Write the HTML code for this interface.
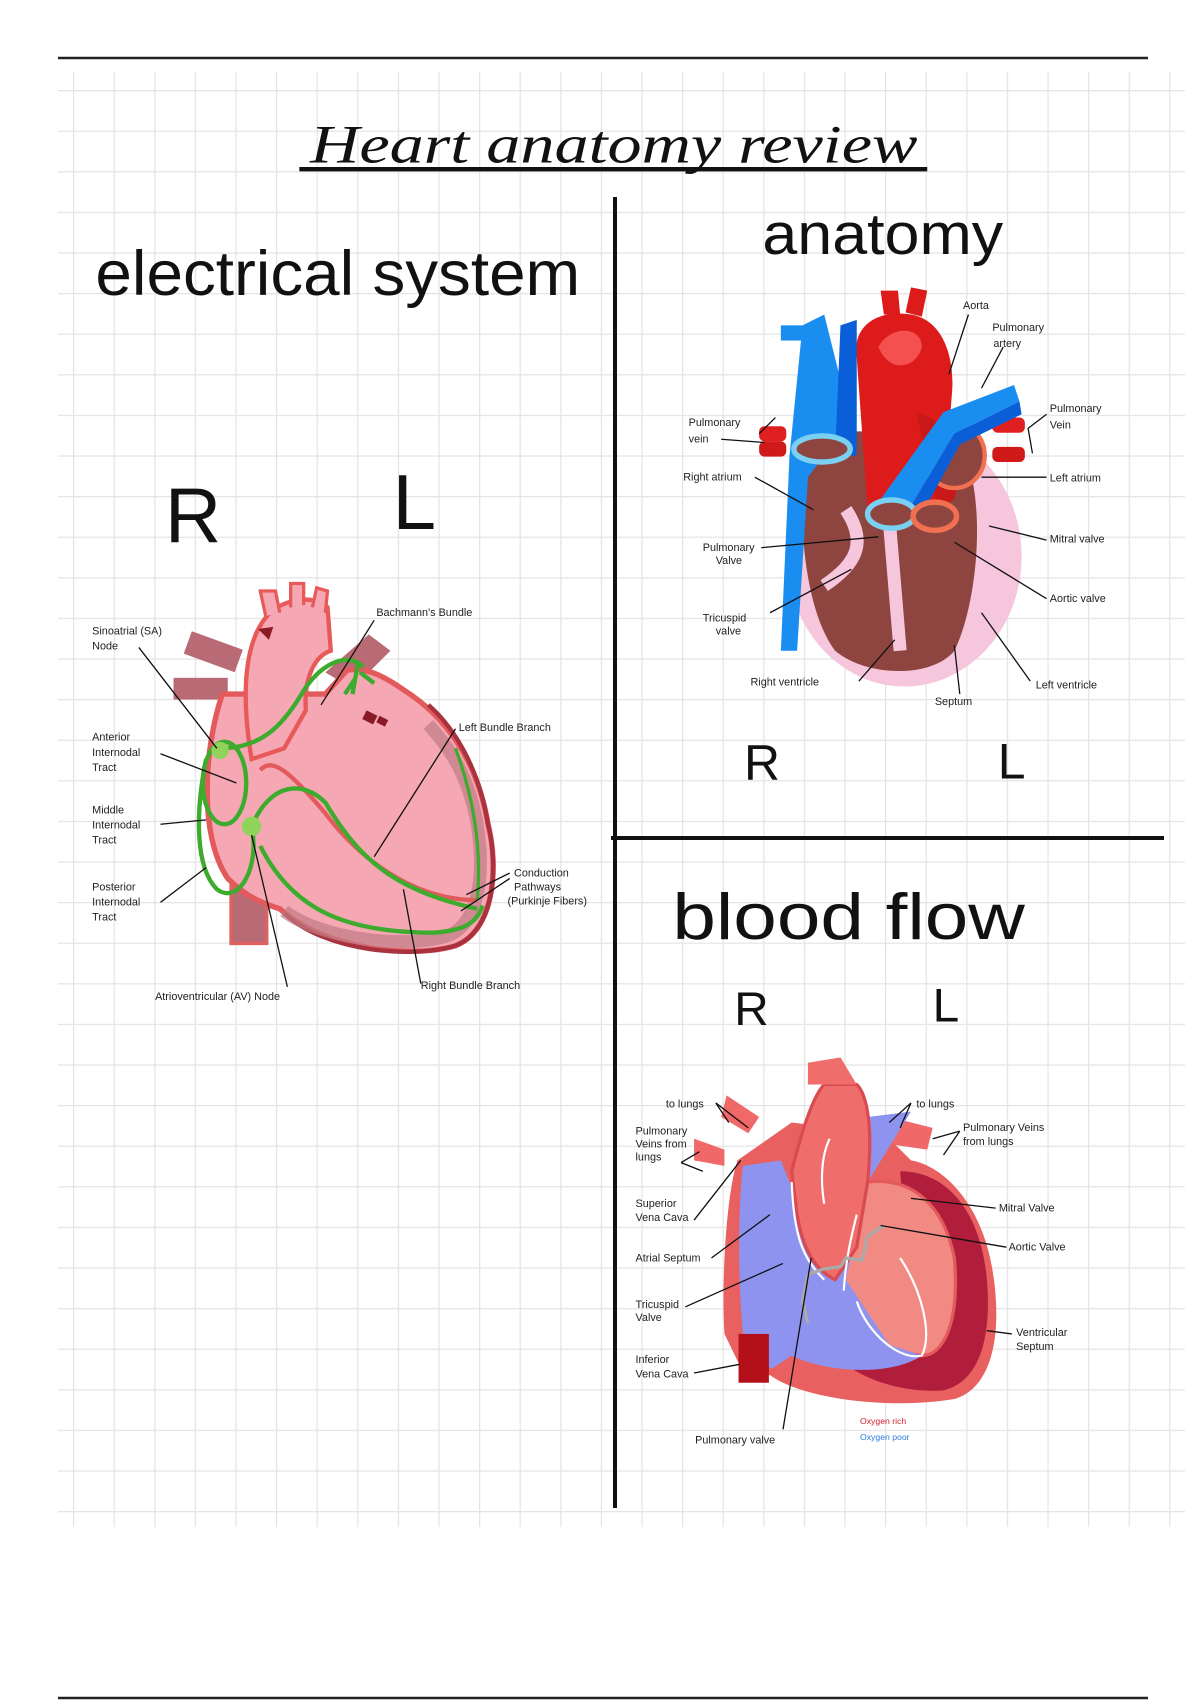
<!DOCTYPE html>
<html><head><meta charset="utf-8"><style>
html,body{margin:0;padding:0;background:#fff;}
svg{display:block;}
.lb{font-family:"Liberation Sans",sans-serif;font-size:10px;fill:#222;}
.hw{font-family:"Liberation Sans",sans-serif;fill:#111;}
.ln{stroke:#111;stroke-width:1.2;fill:none;}
</style></head><body>
<svg width="1200" height="1700" viewBox="0 0 1200 1700" xmlns="http://www.w3.org/2000/svg">
<defs>
<pattern id="g" x="73" y="90" width="40.6" height="40.6" patternUnits="userSpaceOnUse">
<path d="M0 0V40.6M0 0H40.6" stroke="#e4e4e4" stroke-width="2.5" fill="none"/>
</pattern>
</defs>
<rect width="1200" height="1700" fill="#fff"/>
<rect x="58" y="72" width="1127" height="1455" fill="url(#g)"/>
<line x1="58" y1="58" x2="1148" y2="58" stroke="#222" stroke-width="2.5"/>
<line x1="58" y1="1698" x2="1148" y2="1698" stroke="#222" stroke-width="2.5"/>
<line x1="615" y1="197" x2="615" y2="1508" stroke="#111" stroke-width="4"/>
<line x1="611" y1="838" x2="1164" y2="838" stroke="#111" stroke-width="4"/>

<g transform="scale(1.0845)">
<!-- title -->
<text x="566" y="150" text-anchor="middle" font-family="Liberation Serif,serif" font-style="italic" font-size="50" fill="#111" textLength="560" lengthAdjust="spacingAndGlyphs">Heart anatomy review</text>
<line x1="276" y1="156" x2="855" y2="156" stroke="#111" stroke-width="4"/>

<text class="hw" x="88" y="272" font-size="58" textLength="447" lengthAdjust="spacingAndGlyphs">electrical system</text>
<text class="hw" x="703" y="234" font-size="54" textLength="222" lengthAdjust="spacingAndGlyphs">anatomy</text>
<text class="hw" x="620" y="866" font-size="60" textLength="325" lengthAdjust="spacingAndGlyphs">blood flow</text>
<text class="hw" x="152" y="500" font-size="72" font-weight="normal">R</text>
<text class="hw" x="362" y="488" font-size="72">L</text>
<text class="hw" x="686" y="719" font-size="46">R</text>
<text class="hw" x="920" y="718" font-size="46">L</text>
<text class="hw" x="677" y="945" font-size="44">R</text>
<text class="hw" x="860" y="942" font-size="44">L</text>

<!-- ELECTRICAL HEART -->
<g>
<rect x="172" y="590" width="50" height="22" fill="#b86a75" transform="rotate(20 197 600)"/>
<rect x="160" y="625" width="50" height="20" fill="#b86a75"/>
<rect x="213" y="815" width="33" height="55" fill="#b86a75" stroke="#e06060" stroke-width="3"/>
<path d="M300 620 L340 585 L360 600 L325 635 Z" fill="#b86a75"/>
<path d="M205 640 C188 690 183 770 210 810 C228 828 245 834 258 838 C300 876 380 884 420 872 C456 858 460 800 450 760 C440 700 410 660 372 636 C352 622 336 615 320 618 L300 640 L245 640 Z" fill="#f5a8b4" stroke="#e35a5c" stroke-width="5"/>
<path d="M262 842 C300 878 380 884 420 872 C456 858 460 800 450 760 C442 710 420 672 395 650" fill="none" stroke="#a8323f" stroke-width="4"/>
<path d="M262 840 C300 868 380 875 415 862 C440 850 448 810 440 760 C432 715 415 690 395 668" fill="none" stroke="#c07a85" stroke-width="12" opacity=".7"/>
<path d="M232 700 C222 640 225 590 248 566 C262 552 290 548 302 560 L305 600 C290 605 280 625 282 655 L262 690 Z" fill="#f5a8b4" stroke="#e85a5a" stroke-width="4"/>
<path d="M245 568 L240 545 L254 545 L258 565 M268 560 L268 538 L280 538 L280 558 M288 560 L292 542 L302 545 L300 565" fill="#f5a8b4" stroke="#e85a5a" stroke-width="3"/>
<path d="M238 580 L248 590 L252 578 Z" fill="#8a1a25"/>
<path d="M338 655 l10 5 l-4 8 l-10 -5z M350 660 l8 4 l-3 6 l-8 -4z" fill="#8a1a25"/>
<path d="M240 710 C250 700 262 705 300 750 C330 790 380 830 440 830" fill="none" stroke="#e35a5c" stroke-width="4"/>
<!-- green -->
<g fill="none" stroke="#3cab2e" stroke-width="4">
<path d="M203 690 C240 690 260 670 278 640 C295 612 320 600 335 615"/>
<path d="M330 612 L325 640 M332 620 L345 630 M328 625 L318 640"/>
<ellipse cx="207" cy="722" rx="20" ry="38"/>
<path d="M190 700 C180 750 180 800 200 820 C220 835 240 800 232 762"/>
<path d="M232 762 C250 720 280 720 300 740 C330 790 360 820 440 838"/>
<path d="M240 780 C270 840 320 860 400 860 C430 858 440 850 445 835"/>
<path d="M420 690 C435 730 445 780 440 830" stroke-width="3"/>
</g>
<circle cx="203" cy="692" r="8" fill="#8fd35a"/>
<circle cx="232" cy="762" r="9" fill="#8fd35a"/>
<g class="ln" stroke-width="1">
<path d="M128 597 L200 690"/><path d="M148 695 L218 722"/><path d="M148 760 L190 756"/>
<path d="M148 832 L190 800"/><path d="M232 770 L265 910"/><path d="M345 572 L296 650"/>
<path d="M420 672 L345 790"/><path d="M372 820 L388 907"/><path d="M470 805 L430 825 M470 810 L425 840"/>
</g>
<text class="lb" x="85" y="585">Sinoatrial (SA)</text><text class="lb" x="85" y="599">Node</text>
<text class="lb" x="85" y="683">Anterior</text><text class="lb" x="85" y="697">Internodal</text><text class="lb" x="85" y="711">Tract</text>
<text class="lb" x="85" y="750">Middle</text><text class="lb" x="85" y="764">Internodal</text><text class="lb" x="85" y="778">Tract</text>
<text class="lb" x="85" y="821">Posterior</text><text class="lb" x="85" y="835">Internodal</text><text class="lb" x="85" y="849">Tract</text>
<text class="lb" x="143" y="922">Atrioventricular (AV) Node</text>
<text class="lb" x="347" y="568">Bachmann's Bundle</text>
<text class="lb" x="423" y="674">Left Bundle Branch</text>
<text class="lb" x="474" y="808">Conduction</text><text class="lb" x="474" y="821">Pathways</text><text class="lb" x="468" y="834">(Purkinje Fibers)</text>
<text class="lb" x="388" y="912">Right Bundle Branch</text>
</g>

<!-- ANATOMY HEART -->
<g>
<rect x="700" y="393" width="25" height="14" rx="5" fill="#e02020"/>
<rect x="700" y="407" width="25" height="14" rx="5" fill="#d01a1a"/>
<rect x="915" y="385" width="30" height="14" rx="5" fill="#e02020"/>
<rect x="915" y="412" width="30" height="14" rx="5" fill="#d01a1a"/>
<ellipse cx="834" cy="513" rx="108" ry="120" fill="#f6c6dc"/>
<path d="M742 405 C735 470 740 560 770 600 C800 625 860 625 880 600 C900 560 910 470 890 420 C870 400 780 390 742 405 Z" fill="#8e4540"/>
<path d="M820 480 L830 600 M780 470 C800 500 790 520 760 540" stroke="#f6c6dc" stroke-width="12" fill="none"/>
<path d="M790 330 C785 300 810 285 840 290 C870 295 880 330 878 360 L870 460 L800 470 Z" fill="#dd1b1b"/>
<path d="M815 290 L812 268 L828 268 L830 290 M835 288 L840 265 L855 268 L850 292" fill="#dd1b1b"/>
<path d="M810 320 C820 300 850 300 850 320 C845 340 820 345 810 320Z" fill="#f45050"/>
<path d="M845 380 C880 390 890 420 880 460 L865 470 Z" fill="#c81818"/>
<ellipse cx="880" cy="420" rx="28" ry="30" fill="#8e4540" stroke="#f07050" stroke-width="4"/>
<path d="M740 300 L760 290 L790 410 L760 420 L745 440 L735 600 L720 600 L728 420 Z" fill="#1a8ef0"/>
<path d="M775 300 L790 295 L790 420 L770 420 Z" fill="#0a5ed8"/>
<rect x="720" y="300" width="20" height="14" fill="#1a8ef0"/>
<path d="M805 470 L870 380 L935 355 L940 370 L880 400 L835 475 Z" fill="#1a8ef0"/>
<path d="M835 475 L880 400 L940 370 L942 382 L885 410 L848 478 Z" fill="#0a5ed8"/>
<ellipse cx="758" cy="414" rx="26" ry="12" fill="#8e4540" stroke="#7ad0f0" stroke-width="5"/>
<ellipse cx="822" cy="474" rx="22" ry="13" fill="#8e4540" stroke="#7ad0f0" stroke-width="5"/>
<ellipse cx="862" cy="476" rx="20" ry="13" fill="#8e4540" stroke="#f07050" stroke-width="5"/>
<g class="ln">
<path d="M893 290 L875 345"/><path d="M925 320 L905 358"/><path d="M965 382 L948 395 L952 418"/>
<path d="M905 440 L965 440"/><path d="M912 485 L965 498"/><path d="M880 500 L965 552"/>
<path d="M905 565 L950 628"/><path d="M880 595 L885 640"/><path d="M825 590 L792 628"/>
<path d="M785 525 L710 565"/><path d="M810 495 L702 505"/><path d="M696 440 L750 470"/>
<path d="M665 405 L705 408 M700 400 L715 385"/>
</g>
<text class="lb" x="888" y="285">Aorta</text>
<text class="lb" x="915" y="305">Pulmonary</text><text class="lb" x="916" y="320">artery</text>
<text class="lb" x="968" y="380">Pulmonary</text><text class="lb" x="968" y="395">Vein</text>
<text class="lb" x="968" y="444">Left atrium</text>
<text class="lb" x="968" y="500">Mitral valve</text>
<text class="lb" x="968" y="555">Aortic valve</text>
<text class="lb" x="955" y="635">Left ventricle</text>
<text class="lb" x="862" y="650">Septum</text>
<text class="lb" x="692" y="632">Right ventricle</text>
<text class="lb" x="648" y="573">Tricuspid</text><text class="lb" x="660" y="585">valve</text>
<text class="lb" x="648" y="508">Pulmonary</text><text class="lb" x="660" y="520">Valve</text>
<text class="lb" x="630" y="443">Right atrium</text>
<text class="lb" x="635" y="393">Pulmonary</text><text class="lb" x="635" y="408">vein</text>
</g>

<!-- BLOOD FLOW HEART -->
<g>
<path d="M640 1050 L668 1060 L668 1075 L640 1070 Z M670 1010 L700 1030 L690 1045 L665 1030Z" fill="#f06868"/>
<path d="M820 1030 L860 1040 L855 1060 L820 1055Z" fill="#f06868"/>
<path d="M680 1070 C670 1100 665 1180 668 1230 L685 1265 L710 1268 C740 1290 820 1300 880 1290 C915 1280 925 1230 915 1170 C905 1110 870 1075 840 1070 L815 1045 L730 1035 Z" fill="#e8605f"/>
<path d="M830 1080 C875 1080 905 1120 910 1180 C915 1240 900 1275 870 1282 C830 1285 790 1270 770 1250 L840 1200 Z" fill="#b01e3c"/>
<path d="M800 1090 C840 1085 870 1110 880 1160 C885 1220 870 1250 850 1250 C810 1245 780 1220 770 1170 Z" fill="#f28a84" stroke="#e35a5c" stroke-width="3"/>
<path d="M685 1075 L720 1070 L740 1120 L780 1100 L800 1030 L840 1025 L800 1090 L780 1180 L820 1240 L850 1250 C820 1270 760 1265 730 1250 L712 1262 L688 1255 C680 1200 680 1120 685 1075 Z" fill="#8f93f0"/>
<path d="M730 1080 C740 1040 750 1010 760 1000 L790 1000 C800 1010 805 1040 800 1090 L790 1150 L770 1180 C750 1170 740 1150 735 1120 Z" fill="#ef6e6b" stroke="#d94b50" stroke-width="3"/>
<path d="M745 1000 L745 980 L775 975 L790 1000 Z" fill="#ef6e6b"/>
<rect x="681" y="1230" width="28" height="45" fill="#b3101c"/>
<g fill="none" stroke="#fff" stroke-width="2">
<path d="M760 1110 C755 1080 760 1060 765 1050"/><path d="M730 1090 C732 1140 740 1160 760 1180"/>
<path d="M778 1190 C780 1160 785 1140 790 1120"/><path d="M790 1200 C800 1230 830 1255 850 1250 C860 1230 850 1190 830 1160"/>
</g>
<path d="M745 1175 L760 1170 L775 1168 L780 1160 L795 1162 L800 1140 L815 1130" fill="none" stroke="#aaa" stroke-width="3"/>
<path d="M745 1175 L740 1200 L745 1220" fill="none" stroke="#aaa" stroke-width="3"/>
<g class="ln" stroke-width="1.6">
<path d="M660 1017 L672 1035 M660 1017 L690 1040"/><path d="M628 1072 L645 1062 M628 1072 L648 1080"/>
<path d="M640 1125 L683 1070"/><path d="M656 1160 L710 1120"/><path d="M632 1205 L722 1165"/>
<path d="M640 1266 L682 1258"/><path d="M722 1318 L748 1160"/>
<path d="M840 1017 L820 1035 M840 1017 L830 1040"/><path d="M885 1043 L860 1050 M885 1043 L870 1065"/>
<path d="M840 1105 L918 1114"/><path d="M812 1130 L928 1150"/><path d="M910 1227 L933 1230"/>
</g>
<text class="lb" x="614" y="1021" font-size="9">to lungs</text>
<text class="lb" x="586" y="1046" font-size="9">Pulmonary</text><text class="lb" x="586" y="1058" font-size="9">Veins from</text><text class="lb" x="586" y="1070" font-size="9">lungs</text>
<text class="lb" x="586" y="1113" font-size="9">Superior</text><text class="lb" x="586" y="1126" font-size="9">Vena Cava</text>
<text class="lb" x="586" y="1163" font-size="9">Atrial Septum</text>
<text class="lb" x="586" y="1206" font-size="9">Tricuspid</text><text class="lb" x="586" y="1218" font-size="9">Valve</text>
<text class="lb" x="586" y="1257" font-size="9">Inferior</text><text class="lb" x="586" y="1270" font-size="9">Vena Cava</text>
<text class="lb" x="641" y="1331" font-size="9">Pulmonary valve</text>
<text class="lb" x="845" y="1021" font-size="9">to lungs</text>
<text class="lb" x="888" y="1043" font-size="9">Pulmonary Veins</text><text class="lb" x="888" y="1056" font-size="9">from lungs</text>
<text class="lb" x="921" y="1117" font-size="9">Mitral Valve</text>
<text class="lb" x="930" y="1153" font-size="9">Aortic Valve</text>
<text class="lb" x="937" y="1232" font-size="9">Ventricular</text><text class="lb" x="937" y="1245" font-size="9">Septum</text>
<text x="793" y="1313" font-family="Liberation Sans,sans-serif" font-size="8" fill="#d0202a">Oxygen rich</text>
<text x="793" y="1328" font-family="Liberation Sans,sans-serif" font-size="8" fill="#2a7ae0">Oxygen poor</text>
</g>
</g>
</svg>
</body></html>
